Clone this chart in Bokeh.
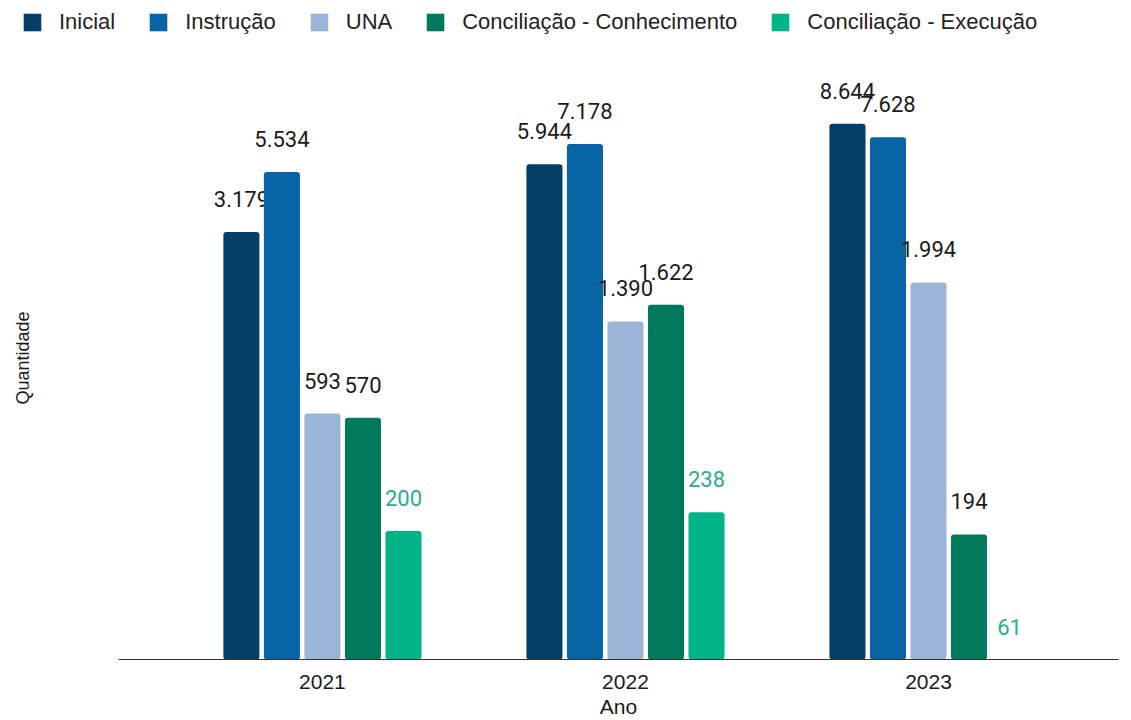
from bokeh.plotting import figure
from bokeh.models import (ColumnDataSource, Range1d, FixedTicker, Legend, LegendItem)
from bokeh.layouts import column
from bokeh.transform import dodge
from bokeh.core.properties import value
from bokeh.embed import file_html
from bokeh.resources import INLINE

# ---------------- data ----------------
years = ["2021", "2022", "2023"]
series = ["Inicial", "Instrução", "UNA", "Conciliação - Conhecimento", "Conciliação - Execução"]
inicial = [3179, 5944, 8644]
instrucao = [5534, 7178, 7628]
una = [593, 1390, 1994]
conc_conhecimento = [570, 1622, 194]
conc_execucao = [200, 238, 61]

values = [inicial, instrucao, una, conc_conhecimento, conc_execucao]
colors = ["#033f66", "#0764a5", "#9ab5d7", "#017a5b", "#00b487"]
label_colors = ["#1a1a1a", "#1a1a1a", "#1a1a1a", "#1a1a1a", "#2aad8c"]

# ---------------- layout constants ----------------
W = 1131
LEG_H = 48
MAIN_H = 720 - LEG_H
border_top, border_bottom = 8, 60
frame_h = MAIN_H - border_top - border_bottom
px_per_decade = 249.4
y_start = 61
y_end = y_start * 10 ** (frame_h / px_per_decade)

centers = [i + 0.5 for i in range(len(years))]
pitch = 0.1337
bar_w = 0.119

def fmt(v):
    return f"{v:,}".replace(",", ".")

sources = [ColumnDataSource(dict(xc=centers, val=vals, lab=[fmt(v) for v in vals], year=years))
           for vals in values]

# ---------------- legend strip ----------------
pl = figure(width=W, height=LEG_H, x_range=Range1d(0, 1), y_range=Range1d(0, 1),
            output_backend="svg", toolbar_location=None,
            min_border_left=0, min_border_right=0, min_border_top=0, min_border_bottom=0)
pl.axis.visible = False
pl.grid.visible = False
pl.outline_line_color = None
pl.frame_align = False

items = []
for k, name in enumerate(series):
    # hidden renderer sharing the series data; only feeds the legend swatch
    rr = pl.vbar(x="xc", top="val", bottom=y_start, width=bar_w, source=sources[k],
                 fill_color=colors[k], line_color=None, visible=False)
    items.append(LegendItem(label=name, renderers=[rr]))

legend = Legend(items=items, orientation="horizontal", location=(21, 13),
                glyph_width=22, glyph_height=22, label_height=22,
                label_standoff=16, spacing=32, padding=0, margin=0,
                border_line_color=None, background_fill_alpha=0,
                inactive_fill_alpha=0,
                label_text_font="Liberation Sans", label_text_font_size="22px",
                label_text_color="#222222")
pl.add_layout(legend, "center")

# ---------------- main chart ----------------
p = figure(width=W, height=MAIN_H,
           x_range=Range1d(-0.173, 3.127),
           y_range=Range1d(y_start, y_end),
           y_axis_type="log",
           output_backend="svg", toolbar_location=None,
           min_border_left=118, min_border_right=13,
           min_border_top=border_top, min_border_bottom=border_bottom)
p.frame_align = False
p.outline_line_color = None
p.xgrid.visible = False
p.ygrid.visible = False
p.background_fill_color = "white"
p.border_fill_color = "white"

for k, src in enumerate(sources):
    off = (k - 2) * pitch
    p.vbar(x=dodge("xc", off, range=p.x_range), top="val", bottom=y_start,
           width=bar_w, source=src, fill_color=colors[k], line_color=None,
           border_radius=3)
    p.text(x=dodge("xc", off, range=p.x_range), y="val", text="lab", source=src,
           y_offset=-33, text_align="center", text_baseline="middle",
           text_font=value("Roboto"), text_font_size="22px",
           text_color=label_colors[k])

# x axis
xa = p.xaxis[0]
xa.ticker = FixedTicker(ticks=centers)
xa.major_label_overrides = {c: y for c, y in zip(centers, years)}
xa.major_tick_out = 0
xa.major_tick_in = 0
xa.minor_tick_out = 0
xa.minor_tick_in = 0
xa.axis_line_color = "#333333"
xa.major_label_standoff = 15
xa.major_label_text_font = "Liberation Sans"
xa.major_label_text_font_size = "21px"
xa.major_label_text_color = "#1a1a1a"
xa.axis_label = "Ano"
xa.axis_label_standoff = 3
xa.axis_label_text_font = "Liberation Sans"
xa.axis_label_text_font_size = "21px"
xa.axis_label_text_font_style = "normal"
xa.axis_label_text_color = "#1a1a1a"

# y axis
ya = p.yaxis[0]
ya.ticker = FixedTicker(ticks=[])
ya.major_tick_out = 0
ya.major_tick_in = 0
ya.minor_tick_out = 0
ya.minor_tick_in = 0
ya.axis_line_color = None
ya.major_label_standoff = 0
ya.axis_label = "Quantidade"
ya.axis_label_standoff = 86
ya.axis_label_text_font = "Liberation Sans"
ya.axis_label_text_font_size = "18px"
ya.axis_label_text_font_style = "normal"
ya.axis_label_text_color = "#1a1a1a"

layout = column(pl, p, spacing=0)
open("out.html", "w").write(file_html(layout, INLINE))
